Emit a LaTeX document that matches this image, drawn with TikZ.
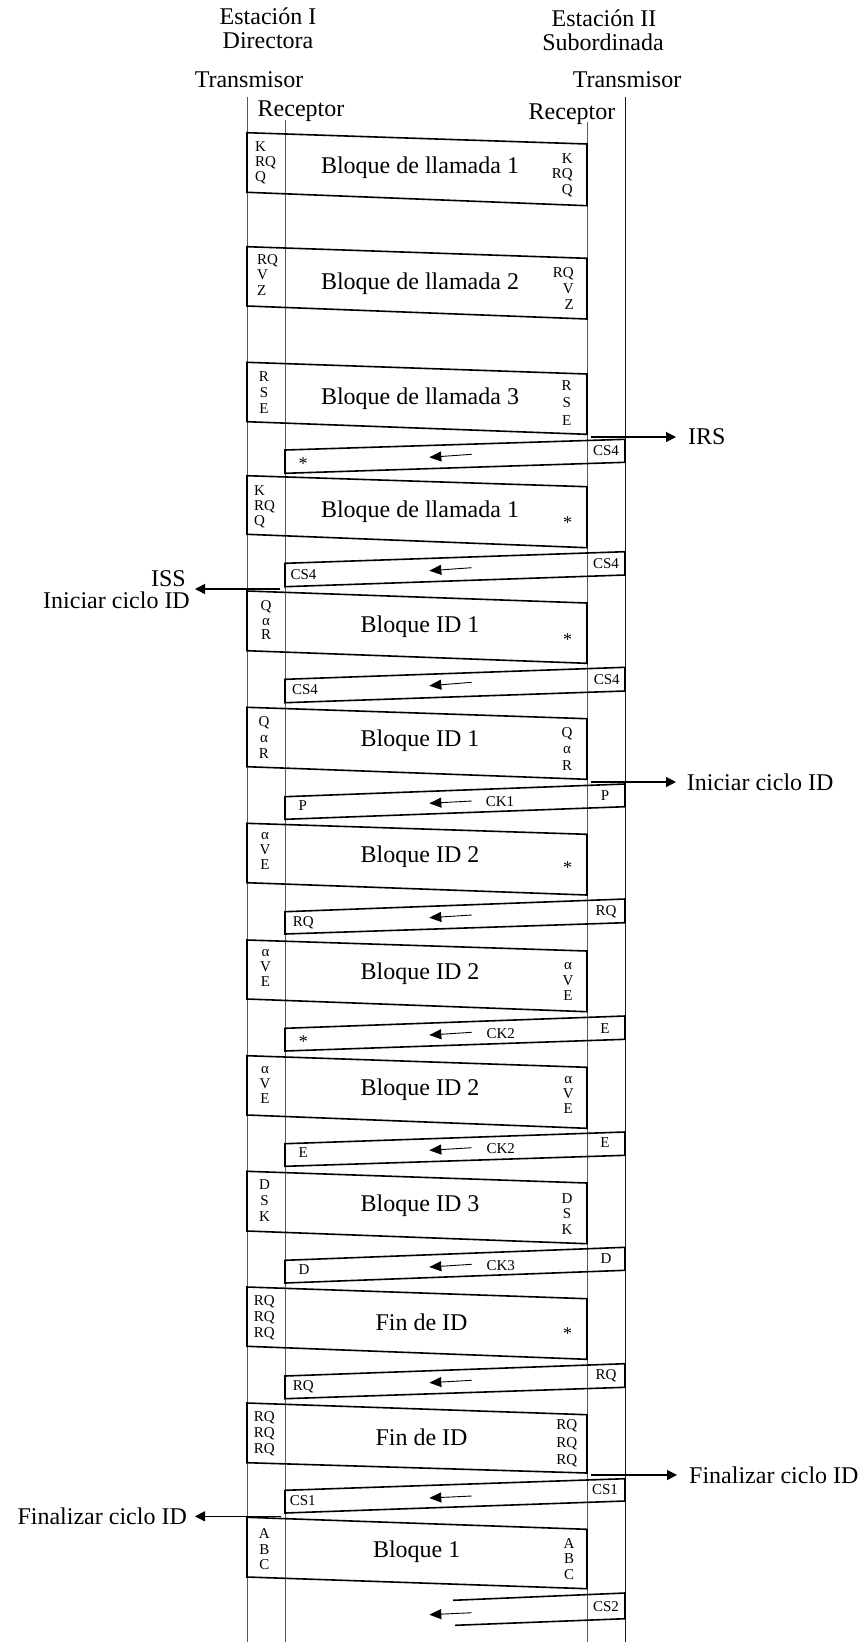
\documentclass[tikz,border=0pt]{standalone}
\usepackage{fontspec}
\setmainfont{Liberation Serif}
\usetikzlibrary{arrows.meta}
\tikzset{
  big/.style={font=\fontsize{24}{26}\selectfont, inner sep=0pt},
  sm/.style={font=\fontsize{15}{15.5}\selectfont, inner sep=0pt},
  ast/.style={font=\fontsize{18}{18}\selectfont, inner sep=0pt},
  stk/.style={font=\fontsize{15}{#1}\selectfont, inner sep=0pt},
  blk/.style={draw=black, line width=1.6pt, line join=miter},
  life/.style={draw=black!65, line width=1pt},
  lifedark/.style={draw=black!90, line width=1pt},
  inarr/.style={line width=0.9pt, -{Triangle[length=12pt,width=10pt]}},
  outarr/.style={line width=1.2pt, -{Triangle[length=10pt,width=10pt]}},
}
% forward block: TLy, BLy, TRy, BRy
\newcommand{\fblock}[4]{\draw[blk] (247,#1) -- (587,#3) -- (587,#4) -- (247,#2) -- cycle;}
% return block: RTy, RBy, LTy, LBy
\newcommand{\rblock}[4]{\draw[blk] (285,#3) -- (625,#1) -- (625,#2) -- (285,#4) -- cycle;}
% inner arrow: tail y, tip y
\newcommand{\inarrow}[2]{\draw[inarr] (471.7,#1) -- (429.3,#2);}
\begin{document}
\begin{tikzpicture}[x=1pt,y=-1pt]
\useasboundingbox (0,0) rectangle (867,1642);

% titles
\node[big, anchor=base] (est1) at (268,24) {Estación I};
\node[big, anchor=base] (dir) at (268,48.3) {Directora};
\node[big, anchor=base] (est2) at (604,26.5) {Estación II};
\node[big, anchor=base] (sub) at (603,50) {Subordinada};
\node[big, anchor=base] (tx1) at (249,87.3) {Transmisor};
\node[big, anchor=base] (tx2) at (627,87.3) {Transmisor};
\node[big, anchor=base] (rx1) at (301,116.3) {Receptor};
\node[big, anchor=base] (rx2) at (572,119.3) {Receptor};

% lifelines
\coordinate (t1top) at (247,97);   \coordinate (t1bot) at (247,1642);
\coordinate (r1top) at (285,120);  \coordinate (r1bot) at (285,1642);
\coordinate (r2top) at (587,122);  \coordinate (r2bot) at (587,1642);
\coordinate (t2top) at (625,97);   \coordinate (t2bot) at (625,1642);
\draw[life] (t1top) -- (t1bot);
\draw[life] (r1top) -- (r1bot);
\draw[life] (r2top) -- (r2bot);
\draw[lifedark] (t2top) -- (t2bot);

% 1 Bloque de llamada 1
\fblock{132.7}{192.3}{144}{205.7}
\node[big] (m1) at (420,168) {Bloque de llamada 1};
\node[stk=15, align=left, anchor=west] (l1) at (255,162.3) {K\\RQ\\Q};
\node[stk=15.5, align=right, anchor=east] (r1) at (573,175) {K\\RQ\\Q};

% 2 Bloque de llamada 2
\fblock{246.7}{306}{258.3}{319}
\node[big] (m2) at (420,283.3) {Bloque de llamada 2};
\node[stk=15.5, align=left, anchor=west] (l2) at (257,275) {RQ\\V\\Z};
\node[stk=16, align=right, anchor=east] (r2) at (574,288.5) {RQ\\V\\Z};

% 3 Bloque de llamada 3
\fblock{362.3}{421.7}{374}{434.3}
\node[big] (m3) at (420,398.3) {Bloque de llamada 3};
\node[stk=16, align=center] (l3) at (264,392.7) {R\\S\\E};
\node[stk=17.5, align=center] (r3) at (566.7,403) {R\\S\\E};

% 4 return CS4
\rblock{439.3}{462.3}{450}{473.3}
\node[ast] (l4) at (303,464) {*};
\node[sm] (r4) at (606,451) {CS4};
\inarrow{454.3}{457.3}

% 5 Bloque de llamada 1
\fblock{475.7}{534.3}{486.7}{547.7}
\node[big] (m5) at (420,511.7) {Bloque de llamada 1};
\node[stk=15.3, align=left, anchor=west] (l5) at (254,506.7) {K\\RQ\\Q};
\node[ast] (r5) at (567.7,522.3) {*};

% 6 return CS4
\rblock{551.7}{575}{563.3}{586.7}
\node[sm] (l6) at (303.5,575) {CS4};
\node[sm] (r6) at (606,564) {CS4};
\inarrow{567.7}{570.7}

% 7 Bloque ID 1
\fblock{591}{650.7}{603}{663.3}
\node[big] (m7) at (420,626.7) {Bloque ID 1};
\node[stk=14.5, align=center] (l7) at (266,620.5) {Q\\α\\R};
\node[ast] (r7) at (567.7,640) {*};

% 8 return CS4
\rblock{667.3}{691}{679.3}{702.7}
\node[sm] (l8) at (305,690) {CS4};
\node[sm] (r8) at (606.7,680) {CS4};
\inarrow{682.3}{685.7}

% 9 Bloque ID 1
\fblock{707.3}{766.7}{718.7}{779.3}
\node[big] (m9) at (420,741) {Bloque ID 1};
\node[stk=16, align=center] (l9) at (264,738) {Q\\α\\R};
\node[stk=16.5, align=center] (r9) at (567,749) {Q\\α\\R};

% 10 return CK1
\rblock{784}{806.7}{796.7}{819.3}
\node[sm] (l10) at (302.7,805.7) {P};
\node[sm] (r10) at (605,795.7) {P};
\node[sm] (c10) at (500,801.7) {CK1};
\inarrow{801}{803.3}

% 11 Bloque ID 2
\fblock{823.3}{882.7}{834.3}{895}
\node[big] (m11) at (420,856.7) {Bloque ID 2};
\node[stk=15.3, align=center] (l11) at (265,851) {α\\V\\E};
\node[ast] (r11) at (567.7,868) {*};

% 12 return RQ
\rblock{899}{922.7}{911.7}{934}
\node[sm] (l12) at (303.3,922.3) {RQ};
\node[sm] (r12) at (606,911.7) {RQ};
\inarrow{915}{917.7}

% 13 Bloque ID 2
\fblock{940}{999}{951}{1011.7}
\node[big] (m13) at (420,973.3) {Bloque ID 2};
\node[stk=15.3, align=center] (l13) at (265.5,968) {α\\V\\E};
\node[stk=15.3, align=center] (r13) at (568,981.5) {α\\V\\E};

% 14 return CK2
\rblock{1016}{1039.3}{1028.3}{1051}
\node[ast] (l14) at (303.3,1042) {*};
\node[sm] (r14) at (605,1028.3) {E};
\node[sm] (c14) at (500.7,1033.3) {CK2};
\inarrow{1032.3}{1035}

% 15 Bloque ID 2
\fblock{1055.7}{1115}{1067.3}{1128.3}
\node[big] (m15) at (420,1090) {Bloque ID 2};
\node[stk=15, align=center] (l15) at (265,1085) {α\\V\\E};
\node[stk=15, align=center] (r15) at (568.3,1095) {α\\V\\E};

% 16 return CK2
\rblock{1132}{1155.3}{1143.7}{1166.3}
\node[sm] (l16) at (303.3,1152.7) {E};
\node[sm] (r16) at (605,1143) {E};
\node[sm] (c16) at (500.7,1148.7) {CK2};
\inarrow{1147.7}{1150.3}

% 17 Bloque ID 3
\fblock{1171.3}{1231}{1183}{1243.7}
\node[big] (m17) at (420,1205.3) {Bloque ID 3};
\node[stk=16, align=center] (l17) at (264.5,1201) {D\\S\\K};
\node[stk=15.3, align=center] (r17) at (567,1214) {D\\S\\K};

% 18 return CK3
\rblock{1247.3}{1270.3}{1260.3}{1283}
\node[sm] (l18) at (304,1269.7) {D};
\node[sm] (r18) at (606,1258.7) {D};
\node[sm] (c18) at (500.7,1265.3) {CK3};
\inarrow{1264.3}{1267}

% 19 Fin de ID
\fblock{1287}{1346.3}{1298.7}{1359.3}
\node[big] (m19) at (421.5,1322) {Fin de ID};
\node[stk=15.8, align=center] (l19) at (264.3,1318) {RQ\\RQ\\RQ};
\node[ast] (r19) at (567.7,1334) {*};

% 20 return RQ
\rblock{1363.7}{1387.3}{1376}{1398.7}
\node[sm] (l20) at (303.3,1386.3) {RQ};
\node[sm] (r20) at (606,1376) {RQ};
\inarrow{1380.3}{1382.7}

% 21 Fin de ID
\fblock{1403}{1462.7}{1414.7}{1473}
\node[big] (m21) at (421.5,1437) {Fin de ID};
\node[stk=15.8, align=center] (l21) at (264.3,1433.7) {RQ\\RQ\\RQ};
\node[stk=17.6, align=center] (r21) at (566.7,1443.5) {RQ\\RQ\\RQ};

% 22 return CS1
\rblock{1478.7}{1501}{1490.3}{1513}
\node[sm] (l22) at (302.7,1500.3) {CS1};
\node[sm] (r22) at (605,1489.7) {CS1};
\inarrow{1496}{1498}

% 23 Bloque 1
\fblock{1517.3}{1577}{1529.3}{1588.7}
\node[big] (m23) at (416.7,1552) {Bloque 1};
\node[stk=15.5, align=center] (l23) at (264.3,1549.3) {A\\B\\C};
\node[stk=15.5, align=center] (r23) at (569,1559) {A\\B\\C};

% 24 return CS2 (partial)
\draw[blk] (453,1600.3) -- (625,1593) -- (625,1618.7) -- (455,1625.3);
\node[sm] (r24) at (606,1607) {CS2};
\inarrow{1612.7}{1614.7}

% outside arrows and labels
\coordinate (irsS) at (591,437);
\node[big, anchor=west] (irs) at (688,437) {IRS};
\draw[outarr, shorten >=12pt] (irsS) -- (irs.west);

\coordinate (iniRS) at (591,782);
\node[big, anchor=west] (iniR) at (686.7,782) {Iniciar ciclo ID};
\draw[outarr, shorten >=10.7pt] (iniRS) -- (iniR.west);

\coordinate (finRS) at (591,1475);
\node[big, anchor=west] (finR) at (689,1475) {Finalizar ciclo ID};
\draw[outarr, shorten >=12pt] (finRS) -- (finR.west);

\coordinate (issS) at (280,589);
\coordinate (issE) at (195,589);
\node[big, anchor=east] (iss) at (186,579) {ISS};
\node[big, anchor=east] (iniL) at (190,600) {Iniciar ciclo ID};
\draw[outarr] (issS) -- (issE);

\coordinate (finLS) at (280.7,1516.3);
\node[big, anchor=east] (finL) at (187,1516.3) {Finalizar ciclo ID};
\draw[outarr, shorten >=8pt] (finLS) -- (finL.east);

\end{tikzpicture}
\end{document}
